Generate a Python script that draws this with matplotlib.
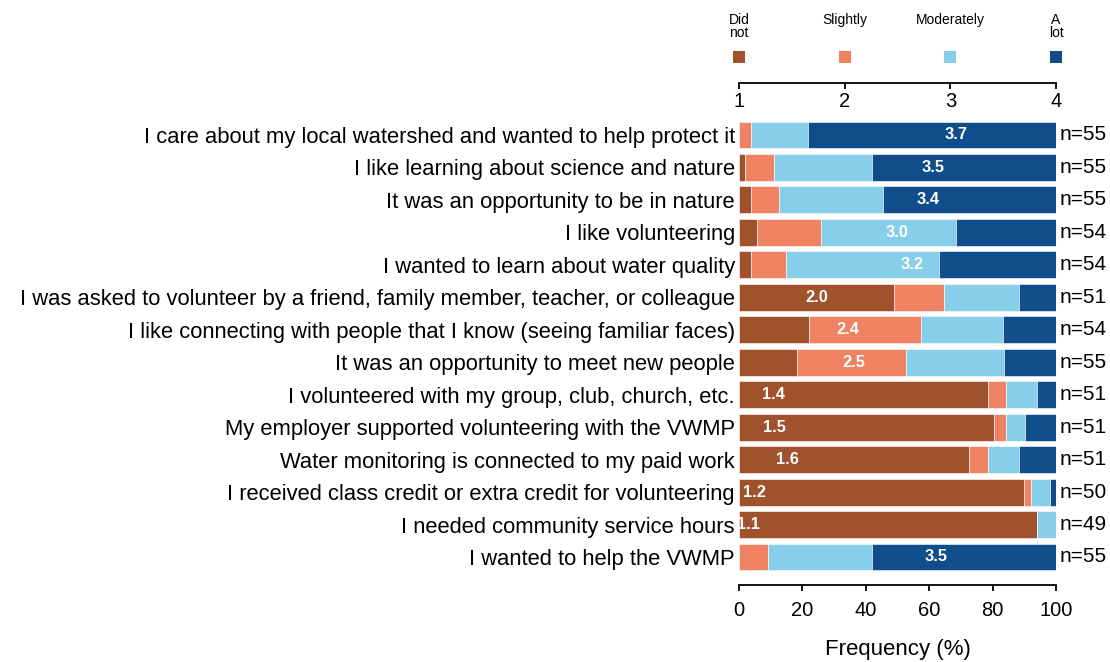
import numpy as np
import matplotlib
matplotlib.use('Agg')
import matplotlib.pyplot as plt

plt.rcParams['font.family'] = ['Liberation Sans', 'DejaVu Sans']

# reasons for volunteering, counts per answer
reasons = ['I care about my local watershed and wanted to help protect it',
           'I like learning about science and nature',
           'It was an opportunity to be in nature',
           'I like volunteering',
           'I wanted to learn about water quality',
           'I was asked to volunteer by a friend, family member, teacher, or colleague',
           'I like connecting with people that I know (seeing familiar faces)',
           'It was an opportunity to meet new people',
           'I volunteered with my group, club, church, etc.',
           'My employer supported volunteering with the VWMP',
           'Water monitoring is connected to my paid work',
           'I received class credit or extra credit for volunteering',
           'I needed community service hours',
           'I wanted to help the VWMP']
did_not    = [0, 1, 2, 3, 2, 25, 12, 10, 40, 41, 37, 45, 46, 0]
slightly   = [2, 5, 5, 11, 6, 8, 19, 19, 3, 2, 3, 1, 0, 5]
moderately = [10, 17, 18, 23, 26, 12, 14, 17, 5, 3, 5, 3, 3, 18]
a_lot      = [43, 32, 30, 17, 20, 6, 9, 9, 3, 5, 6, 1, 0, 32]
n_resp     = [55, 55, 55, 54, 54, 51, 54, 55, 51, 51, 51, 50, 49, 55]

cat_names = ['Did\nnot', 'Slightly', 'Moderately', 'A\nlot']
cat_scores = [1, 2, 3, 4]
colors = ['#A0522D', '#EE8262', '#87CEEB', '#104E8B']

counts = np.array([did_not, slightly, moderately, a_lot], dtype=float)
n_arr = np.array(n_resp, dtype=float)
pct = counts / n_arr * 100
means = (counts * np.array(cat_scores)[:, None]).sum(axis=0) / n_arr

fig = plt.figure(figsize=(11.1, 6.62), dpi=100)
W, H = 1110.0, 662.0
x0, x1 = 739, 1056

# main bars
ax = fig.add_axes([x0 / W, (H - 585) / H, (x1 - x0) / W, 480 / H])
y = np.arange(len(reasons))
left = np.zeros(len(reasons))
for k in range(4):
    ax.barh(y, pct[k], left=left, height=0.83, color=colors[k],
            edgecolor='white', linewidth=0.4)
    left = left + pct[k]

for i in range(len(reasons)):
    ax.text((means[i] - 1) * 25, i, '%.1f' % means[i], ha='center', va='center',
            color='white', fontweight='bold', fontsize=11.8)
    ax.text(101.2, i, 'n=%d' % n_resp[i], ha='left', va='center',
            fontsize=15, clip_on=False)

ax.set_xlim(0, 100)
ax.set_ylim(13.863, -0.924)
ax.set_yticks(y)
ax.set_yticklabels(reasons, fontsize=15.8)
ax.tick_params(axis='y', length=0, pad=3)
ax.set_xticks([0, 20, 40, 60, 80, 100])
ax.tick_params(axis='x', direction='out', length=4.3, width=1.3, labelsize=14.5, pad=7)
for s in ['top', 'left', 'right']:
    ax.spines[s].set_visible(False)
ax.spines['bottom'].set_linewidth(1.3)
ax.spines['bottom'].set_bounds(0, 100)
ax.set_xlabel('Frequency (%)', fontsize=16, labelpad=14)

# legend / mean scale on top
lg = fig.add_axes([x0 / W, (H - 83) / H, (x1 - x0) / W, 83 / H])
lg.set_xlim(1, 4)
lg.set_ylim(83, 0)
lg.scatter(cat_scores, [57] * 4, marker='s', s=76, c=colors, linewidths=0, clip_on=False)
for xs, nm in zip(cat_scores, cat_names):
    lg.text(xs, 13, nm, ha='center', va='top', fontsize=10, linespacing=0.9)
lg.set_xticks(cat_scores)
lg.tick_params(axis='x', direction='out', length=4.3, width=1.3, labelsize=14.5, pad=2)
lg.set_yticks([])
for s in ['top', 'left', 'right']:
    lg.spines[s].set_visible(False)
lg.spines['bottom'].set_linewidth(1.3)
lg.patch.set_alpha(0)

fig.savefig('out.png', dpi=100)
